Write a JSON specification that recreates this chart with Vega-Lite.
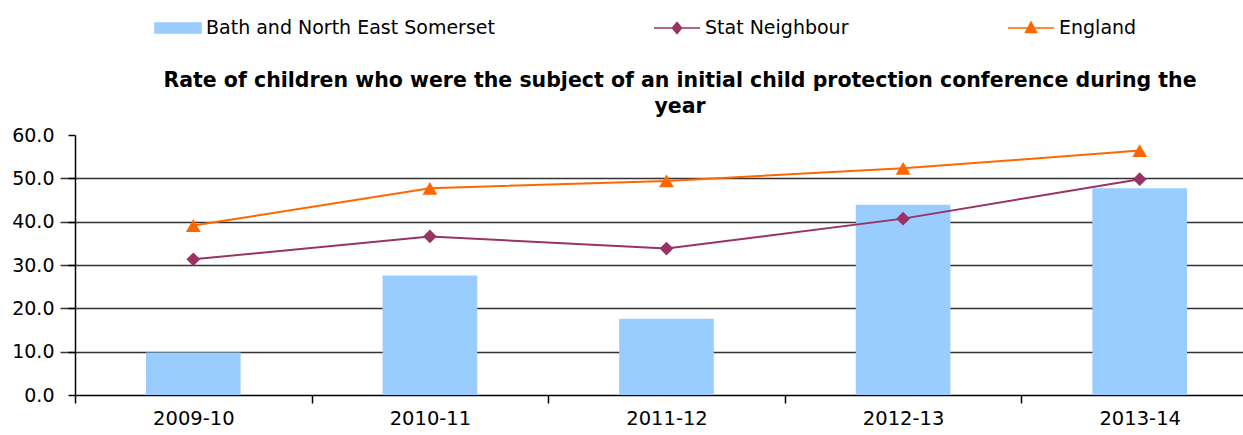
{
  "$schema": "https://vega.github.io/schema/vega-lite/v6.json",
  "width": 1168,
  "height": 260,
  "autosize": {"type": "none"},
  "padding": {"left": 75, "top": 135, "right": 0, "bottom": 40},
  "background": "white",
  "title": {
    "text": ["Rate of children  who were the subject of an initial  child  protection conference during the", "year"],
    "font": "DejaVu Sans",
    "fontSize": 20.5,
    "fontWeight": "bold",
    "color": "#000000",
    "anchor": "middle",
    "frame": "group",
    "dx": 21,
    "dy": 129,
    "offset": 16,
    "lineHeight": 26
  },
  "data": {
    "values": [
      {"year": "2009-10", "series": "Bath and North East Somerset", "value": 9.8},
      {"year": "2010-11", "series": "Bath and North East Somerset", "value": 27.6},
      {"year": "2011-12", "series": "Bath and North East Somerset", "value": 17.6},
      {"year": "2012-13", "series": "Bath and North East Somerset", "value": 43.9},
      {"year": "2013-14", "series": "Bath and North East Somerset", "value": 47.7},
      {"year": "2009-10", "series": "Stat Neighbour", "value": 31.3},
      {"year": "2010-11", "series": "Stat Neighbour", "value": 36.6},
      {"year": "2011-12", "series": "Stat Neighbour", "value": 33.8},
      {"year": "2012-13", "series": "Stat Neighbour", "value": 40.7},
      {"year": "2013-14", "series": "Stat Neighbour", "value": 49.8},
      {"year": "2009-10", "series": "England", "value": 39.1},
      {"year": "2010-11", "series": "England", "value": 47.7},
      {"year": "2011-12", "series": "England", "value": 49.4},
      {"year": "2012-13", "series": "England", "value": 52.3},
      {"year": "2013-14", "series": "England", "value": 56.4}
    ]
  },
  "encoding": {
    "x": {
      "field": "year",
      "type": "nominal",
      "sort": null,
      "scale": {"range": [0, 1183], "paddingInner": 0, "paddingOuter": 0},
      "axis": {
        "title": null,
        "labelAngle": 0,
        "tickBand": "extent",
        "grid": false,
        "domainColor": "#000000",
        "domainWidth": 1.5,
        "tickColor": "#000000",
        "tickWidth": 1.5,
        "tickSize": 8,
        "labelPadding": 6,
        "labelFont": "DejaVu Sans",
        "labelFontSize": 19.5,
        "labelColor": "#000000"
      }
    }
  },
  "layer": [
    {
      "transform": [{"filter": "datum.series === 'Bath and North East Somerset'"}],
      "mark": {"type": "bar", "width": {"band": 0.4}},
      "encoding": {
        "y": {
          "field": "value",
          "type": "quantitative",
          "scale": {"domain": [0, 60], "nice": false},
          "axis": {
            "title": null,
            "orient": "left",
            "values": [0, 10, 20, 30, 40, 50, 60],
            "format": ".1f",
            "grid": false,
            "domainColor": "#000000",
            "domainWidth": 1.5,
            "tickColor": "#000000",
            "tickWidth": 1.5,
            "tickSize": 7,
            "labelPadding": 14,
            "labelFont": "DejaVu Sans",
            "labelFontSize": 19,
            "labelColor": "#000000"
          }
        },
        "color": {
          "field": "series",
          "type": "nominal",
          "scale": {
            "domain": ["Bath and North East Somerset", "Stat Neighbour", "England"],
            "range": ["#99CCFF", "#993366", "#FF6600"]
          }
        }
      }
    },
    {
      "transform": [{"filter": "datum.series !== 'Bath and North East Somerset'"}],
      "mark": {"type": "line", "strokeWidth": 2},
      "encoding": {
        "y": {
          "field": "value",
          "type": "quantitative",
          "axis": {
            "title": null,
            "orient": "right",
            "values": [10, 20, 30, 40, 50],
            "grid": true,
            "gridColor": "#333333",
            "gridWidth": 1.5,
            "labels": false,
            "ticks": false,
            "domain": false
          }
        },
        "color": {"field": "series", "type": "nominal"}
      }
    },
    {
      "transform": [{"filter": "datum.series !== 'Bath and North East Somerset'"}],
      "mark": {"type": "point", "filled": true, "opacity": 0, "size": 200},
      "encoding": {
        "y": {"field": "value", "type": "quantitative", "axis": null},
        "color": {"field": "series", "type": "nominal"},
        "shape": {
          "field": "series",
          "type": "nominal",
          "scale": {
            "domain": ["Bath and North East Somerset", "Stat Neighbour", "England"],
            "range": [
              "M-1,-0.22H1V0.22H-1Z",
              "M-1,0H1M0,-0.24L0.2,0L0,0.24L-0.2,0Z",
              "M-1,0H1M0,-0.26L0.24,0.2L-0.24,0.2Z"
            ]
          }
        }
      }
    },
    {
      "transform": [{"filter": "datum.series === 'Stat Neighbour'"}],
      "mark": {"type": "point", "filled": true, "opacity": 1, "size": 190, "shape": "diamond", "color": "#993366"},
      "encoding": {
        "y": {"field": "value", "type": "quantitative", "axis": null}
      }
    },
    {
      "transform": [{"filter": "datum.series === 'England'"}],
      "mark": {"type": "point", "filled": true, "opacity": 1, "size": 220, "shape": "triangle-up", "color": "#FF6600"},
      "encoding": {
        "y": {"field": "value", "type": "quantitative", "axis": null}
      }
    }
  ],
  "resolve": {"axis": {"y": "independent"}},
  "config": {
    "view": {"stroke": null, "fill": null},
    "legend": {
      "title": null,
      "orient": "none",
      "direction": "horizontal",
      "legendX": 79,
      "legendY": -131,
      "padding": 0,
      "symbolSize": 2116,
      "symbolOpacity": 1,
      "columnPadding": 156,
      "labelOffset": 4,
      "labelFont": "DejaVu Sans",
      "labelFontSize": 19,
      "labelColor": "#000000",
      "labelLimit": 500
    }
  }
}
